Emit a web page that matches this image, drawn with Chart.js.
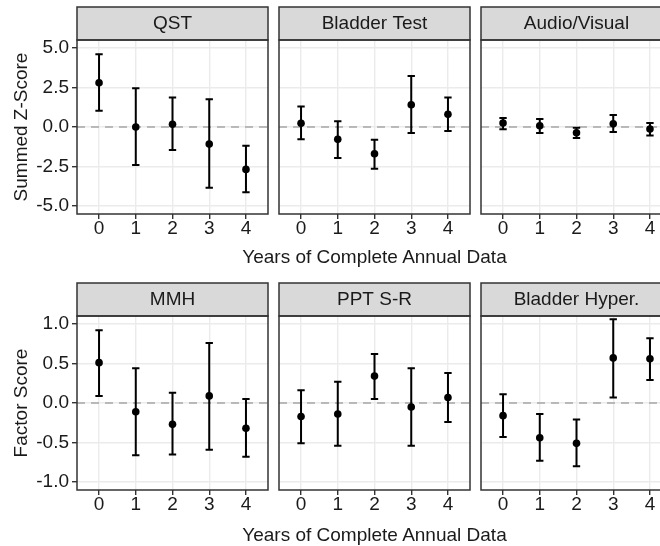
<!DOCTYPE html>
<html><head><meta charset="utf-8">
<script src="https://cdn.jsdelivr.net/npm/chart.js@4.4.1/dist/chart.umd.min.js"></script>
<style>
html,body{margin:0;padding:0;background:#fff;}
#wrap{position:relative;width:660px;height:546px;overflow:hidden;background:#fff;}
canvas{position:absolute;left:0;top:0;}
.xt{position:absolute;font-family:"Liberation Sans",Arial,sans-serif;font-size:19px;line-height:19px;color:#1a1a1a;white-space:nowrap;transform:translateX(-50%);}
</style></head><body>
<div id="wrap">
<canvas id="c0" width="700" height="546"></canvas>
<canvas id="c1" width="700" height="546"></canvas>
<canvas id="c2" width="700" height="546"></canvas>
<canvas id="c3" width="700" height="546"></canvas>
<canvas id="c4" width="700" height="546"></canvas>
<canvas id="c5" width="700" height="546"></canvas>
<div class="xt" style="left:374.5px;top:247px">Years of Complete Annual Data</div>
<div class="xt" style="left:374.5px;top:525px">Years of Complete Annual Data</div>
</div>
<script>
// ---- data ----
const years = [0, 1, 2, 3, 4];
const panelTitles = ['QST', 'Bladder Test', 'Audio/Visual', 'MMH', 'PPT S-R', 'Bladder Hyper.'];
const rowYTitles = ['Summed Z-Score', 'Factor Score'];
const topYTicks = [-5, -2.5, 0, 2.5, 5];
const botYTicks = [-1, -0.5, 0, 0.5, 1];
const topYLim = [-5.5, 5.5];
const botYLim = [-1.1, 1.1];
const xLim = [-0.6, 4.6];

const qstMean = [2.80, 0.00, 0.17, -1.08, -2.68];
const qstLow  = [1.03, -2.41, -1.46, -3.84, -4.13];
const qstHigh = [4.60, 2.45, 1.86, 1.75, -1.18];

const bladderMean = [0.23, -0.78, -1.69, 1.41, 0.80];
const bladderLow  = [-0.78, -1.96, -2.64, -0.38, -0.25];
const bladderHigh = [1.29, 0.36, -0.80, 3.23, 1.86];

const avMean = [0.25, 0.08, -0.36, 0.21, -0.13];
const avLow  = [-0.15, -0.38, -0.70, -0.32, -0.53];
const avHigh = [0.57, 0.51, -0.04, 0.76, 0.25];

const mmhMean = [0.51, -0.11, -0.27, 0.09, -0.32];
const mmhLow  = [0.09, -0.66, -0.65, -0.59, -0.68];
const mmhHigh = [0.92, 0.44, 0.13, 0.76, 0.05];

const pptMean = [-0.17, -0.14, 0.34, -0.05, 0.07];
const pptLow  = [-0.51, -0.54, 0.05, -0.54, -0.24];
const pptHigh = [0.16, 0.27, 0.62, 0.44, 0.38];

const hyperMean = [-0.16, -0.44, -0.51, 0.57, 0.56];
const hyperLow  = [-0.43, -0.73, -0.80, 0.07, 0.29];
const hyperHigh = [0.11, -0.14, -0.21, 1.06, 0.82];

// ---- layout ----
const FONT = "'Liberation Sans', Arial, sans-serif";
const CW = 700, CH = 546;
const colLeft = [77, 279, 481], panelW = 191;
const stripTop = [7, 283], stripH = 33, panelH = 174;
const xAxisH = 40;
const capHalf = 0.1;

const stripPlugin = {
  id: 'strip',
  beforeDraw(chart) {
    const {ctx, chartArea: a} = chart;
    ctx.save();
    ctx.fillStyle = '#ffffff';
    ctx.fillRect(a.left, a.top, a.width, a.height);
    ctx.fillStyle = '#d9d9d9';
    ctx.fillRect(a.left, a.top - stripH, a.width, stripH);
    ctx.restore();
  },
  afterDraw(chart) {
    const {ctx, chartArea: a} = chart;
    ctx.save();
    ctx.strokeStyle = '#333333';
    ctx.lineWidth = 1.5;
    ctx.strokeRect(a.left, a.top - stripH, a.width, stripH);
    ctx.strokeRect(a.left, a.top, a.width, a.height);
    ctx.restore();
  }
};

function build(canvasId, r, c, title, mean, low, high) {
  const left = colLeft[c], right = left + panelW;
  const pTop = stripTop[r] + stripH, pBottom = pTop + panelH;
  const yAxisW = c === 0 ? left : 0;
  const yLim = r === 0 ? topYLim : botYLim;
  const yTicks = r === 0 ? topYTicks : botYTicks;
  const bars = [], caps = [], pts = [];
  years.forEach((x, i) => {
    bars.push({x: x, y: low[i]}, {x: x, y: high[i]}, {x: x, y: null});
    caps.push({x: x - capHalf, y: high[i]}, {x: x + capHalf, y: high[i]}, {x: x, y: null},
              {x: x - capHalf, y: low[i]}, {x: x + capHalf, y: low[i]}, {x: x, y: null});
    pts.push({x: x, y: mean[i]});
  });
  const tickFont = {family: FONT, size: 19, lineHeight: 1};
  new Chart(document.getElementById(canvasId), {
    type: 'scatter',
    data: {datasets: [
      {data: pts, pointRadius: 3.8, pointBackgroundColor: '#000', pointBorderColor: '#000', pointBorderWidth: 0, showLine: false, order: 0},
      {data: bars, showLine: true, spanGaps: false, borderColor: '#000', borderWidth: 2, pointRadius: 0, order: 1},
      {data: caps, showLine: true, spanGaps: false, borderColor: '#000', borderWidth: 2, pointRadius: 0, order: 1},
      {data: [{x: xLim[0], y: 0}, {x: xLim[1], y: 0}], showLine: true, borderColor: '#a6a6a6', borderDash: [8, 6], borderWidth: 1.6, pointRadius: 0, order: 5}
    ]},
    options: {
      responsive: false, animation: false, devicePixelRatio: 1,
      events: [],
      layout: {padding: {left: left - yAxisW, right: CW - right, top: stripTop[r], bottom: CH - pBottom - xAxisH}},
      plugins: {
        legend: {display: false}, tooltip: {enabled: false},
        title: {display: true, text: title, fullSize: false, color: '#1a1a1a',
                font: {family: FONT, size: 19, weight: 'normal', lineHeight: 1}, padding: {top: 7, bottom: 7}}
      },
      scales: {
        x: {
          type: 'linear', min: xLim[0], max: xLim[1],
          afterBuildTicks: s => { s.ticks = years.map(v => ({value: v})); },
          afterFit: s => { s.height = xAxisH; },
          grid: {color: '#ebebeb', lineWidth: 1.4, tickLength: 5, tickColor: '#333', tickWidth: 1.4},
          border: {display: false},
          ticks: {padding: 0, color: '#1a1a1a', font: tickFont, maxRotation: 0, autoSkip: false, callback: v => String(v)}
        },
        y: {
          type: 'linear', min: yLim[0], max: yLim[1],
          afterBuildTicks: s => { s.ticks = yTicks.map(v => ({value: v})); },
          afterFit: s => { s.width = yAxisW; },
          grid: {color: '#ebebeb', lineWidth: 1.4, drawTicks: c === 0, tickLength: 5, tickColor: '#333', tickWidth: 1.4},
          border: {display: false},
          ticks: {display: c === 0, padding: 3, color: '#1a1a1a', font: tickFont, autoSkip: false, callback: v => Number(v).toFixed(1)},
          title: {display: c === 0, text: rowYTitles[r], color: '#1a1a1a', font: {family: FONT, size: 19, lineHeight: 1.2}, padding: {top: 10, bottom: 0}}
        }
      }
    },
    plugins: [stripPlugin]
  });
}

build('c0', 0, 0, panelTitles[0], qstMean, qstLow, qstHigh);
build('c1', 0, 1, panelTitles[1], bladderMean, bladderLow, bladderHigh);
build('c2', 0, 2, panelTitles[2], avMean, avLow, avHigh);
build('c3', 1, 0, panelTitles[3], mmhMean, mmhLow, mmhHigh);
build('c4', 1, 1, panelTitles[4], pptMean, pptLow, pptHigh);
build('c5', 1, 2, panelTitles[5], hyperMean, hyperLow, hyperHigh);
</script>
</body></html>
